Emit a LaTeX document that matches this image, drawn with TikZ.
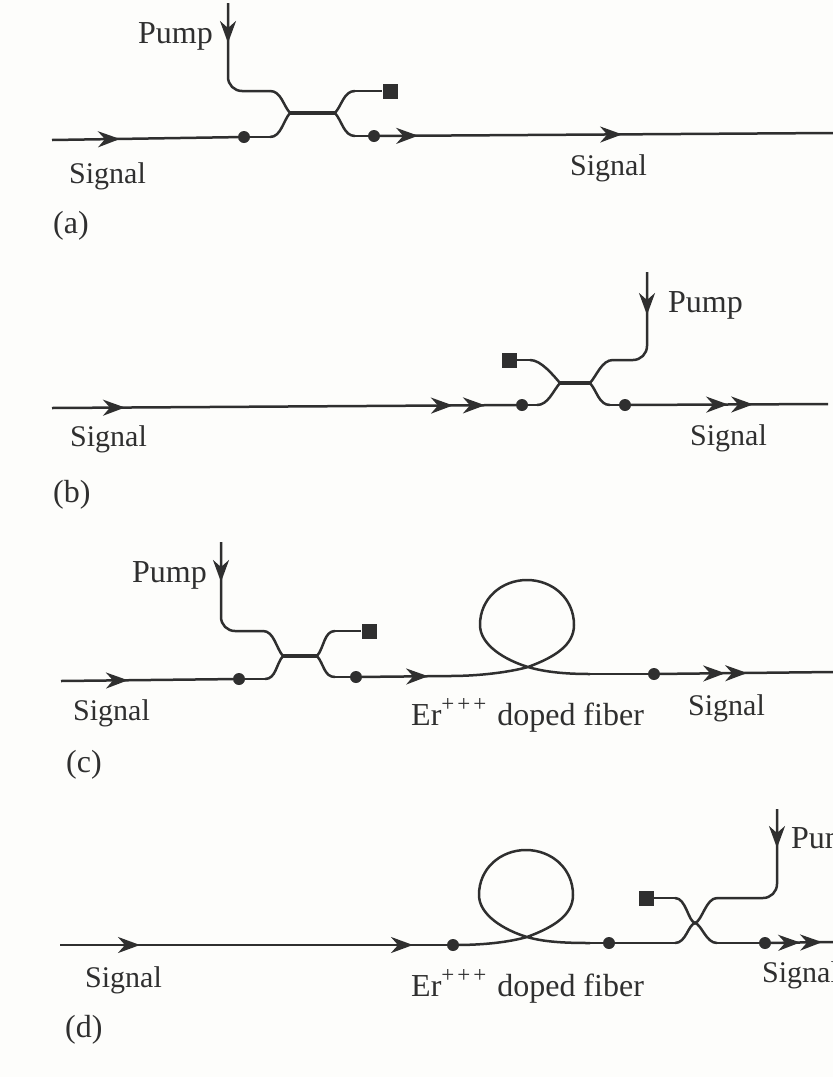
\documentclass[tikz,border=0pt]{standalone}
\usepackage{fontspec}
\setmainfont{Liberation Serif}
\usetikzlibrary{arrows.meta,decorations.markings}
\definecolor{ink}{HTML}{2F2F2F}
\definecolor{paper}{HTML}{FDFDFB}
\tikzset{
	fiber/.style={line width=2.5pt, color=ink},
	merged/.style={line width=3.4pt, color=ink},
	sharp/.tip={Stealth[length=22pt, width=16pt, inset=7pt]},
	tipat/.style={postaction={decorate}, decoration={markings, mark=at position #1 with {\arrow{sharp}}}},
	tiptwo/.style 2 args={postaction={decorate}, decoration={markings, mark=at position #1 with {\arrow{sharp}}, mark=at position #2 with {\arrow{sharp}}}},
	tipthree/.style n args={3}{postaction={decorate}, decoration={markings, mark=at position #1 with {\arrow{sharp}}, mark=at position #2 with {\arrow{sharp}}, mark=at position #3 with {\arrow{sharp}}}},
	splice/.style={circle, fill=ink, inner sep=0pt, minimum size=12pt},
	dump/.style={rectangle, fill=ink, inner sep=0pt, minimum size=15pt},
	lbl/.style={anchor=base west, inner sep=0pt, text=ink, font=\fontsize{30}{36}\selectfont},
	lblbig/.style={lbl, font=\fontsize{32}{38}\selectfont}
}
% flat fiber end into the coupler, and back out of it
\newcommand{\bendin}[3]{\draw[fiber] (#1) .. controls +(11,0) and +(-7,#3) .. (#2);}
\newcommand{\bendout}[3]{\draw[fiber] (#1) .. controls +(7,#3) and +(-11,0) .. (#2);}
\newcommand{\fiberloop}[3]{\draw[fiber] (#1) .. controls +(30,0) and +(-18,5) .. (#2) .. controls +(27,-10) and +(0,20) .. ++(46,-42) .. controls +(0,-27) and +(25,0) .. ++(-47,-45) .. controls +(-25,0) and +(0,-27) .. ++(-47,45) .. controls +(0,20) and +(-23,-7) .. (#2) .. controls +(17,5) and +(-25,0) .. (#3);}
\newcommand{\erlabel}{Er\raisebox{.42em}{\fontsize{23}{23}\selectfont +\kern3pt+\kern3pt+}\kern3pt{} doped fiber}

\begin{document}
\begin{tikzpicture}[x=1pt, y=-1pt]
	\useasboundingbox (0,0) rectangle (833,1077);
	\clip (0,0) rectangle (833,1077);
	\fill[paper] (0,0) rectangle (833,1077);

	% (a)
	\node[lblbig] (pumpA) at (138,43) {Pump};
	\node[lbl] (sigAl) at (69,183) {Signal};
	\node[lbl] (sigAr) at (570,175) {Signal};
	\node[lblbig] (capA) at (53,233) {(a)};
	\node[splice] (dotAl) at (244,137) {};
	\node[splice] (dotAr) at (374,136) {};
	\node[dump] (endA) at (390,91) {};
	\coordinate (pA0) at (228,3);
	\coordinate (pA2) at (270,91);
	\coordinate (cA0) at (290,113);
	\coordinate (cA1) at (335,113);
	\coordinate (uA) at (355,91);
	\coordinate (lA0) at (270,137);
	\coordinate (lA1) at (355,136);
	\coordinate (sA0) at (52,140);
	\coordinate (sA4) at (833,133);
	\draw[fiber, tipat=40pt, rounded corners=14pt] (pA0) |- (pA2);
	\bendin{pA2}{cA0}{-8}
	\draw[merged] (cA0) -- (cA1);
	\bendout{cA1}{uA}{-8}
	\draw[fiber] (uA) -- (endA);
	\bendin{lA0}{cA0}{8}
	\bendout{cA1}{lA1}{8}
	\draw[fiber, tipat=68pt] (sA0) -- (dotAl);
	\draw[fiber] (dotAl) -- (lA0);
	\draw[fiber] (lA1) -- (dotAr);
	\draw[fiber, tiptwo={38pt}{242pt}] (dotAr) -- (sA4);

	% (b)
	\node[lblbig] (pumpB) at (668,312) {Pump};
	\node[lbl] (sigBl) at (70,446) {Signal};
	\node[lbl] (sigBr) at (690,445) {Signal};
	\node[lblbig] (capB) at (53,502) {(b)};
	\node[splice] (dotBl) at (522,405) {};
	\node[splice] (dotBr) at (625,405) {};
	\node[dump] (endB) at (509,360) {};
	\coordinate (pB0) at (647,272);
	\coordinate (pB2) at (613,360);
	\coordinate (cB0) at (560,383);
	\coordinate (cB1) at (590,383);
	\coordinate (uB) at (530,360);
	\coordinate (lB0) at (537,405);
	\coordinate (lB1) at (610,405);
	\coordinate (sB0) at (52,408);
	\coordinate (sB6) at (828,404);
	\draw[fiber, tipat=43pt, rounded corners=14pt] (pB0) |- (pB2);
	\bendout{cB1}{pB2}{-8}
	\draw[merged] (cB0) -- (cB1);
	\bendin{uB}{cB0}{-8}
	\draw[fiber] (endB) -- (uB);
	\bendin{lB0}{cB0}{8}
	\bendout{cB1}{lB1}{8}
	\draw[fiber, tipthree={73pt}{401pt}{433pt}] (sB0) -- (dotBl);
	\draw[fiber] (dotBl) -- (lB0);
	\draw[fiber] (lB1) -- (dotBr);
	\draw[fiber, tiptwo={97pt}{122pt}] (dotBr) -- (sB6);

	% (c)
	\node[lblbig] (pumpC) at (132,582) {Pump};
	\node[lbl] (sigCl) at (73,720) {Signal};
	\node[lbl] (sigCr) at (688,715) {Signal};
	\node[lblbig] (erC) at (411,725) {\erlabel};
	\node[lblbig] (capC) at (66,772) {(c)};
	\node[splice] (dotCl) at (239,679) {};
	\node[splice] (dotCr) at (356,677) {};
	\node[splice] (dotCo) at (654,674) {};
	\node[dump] (endC) at (369,631) {};
	\coordinate (pC0) at (221,542);
	\coordinate (pC2) at (263,631);
	\coordinate (cC0) at (283,656);
	\coordinate (cC1) at (317,656);
	\coordinate (uC) at (335,631);
	\coordinate (lC0) at (265,679);
	\coordinate (lC1) at (335,677);
	\coordinate (sC0) at (61,681);
	\coordinate (inC) at (450,676);
	\coordinate (xC) at (528,667);
	\coordinate (outC) at (590,674);
	\coordinate (sC5) at (833,672);
	\draw[fiber, tipat=40pt, rounded corners=14pt] (pC0) |- (pC2);
	\bendin{pC2}{cC0}{-8}
	\draw[merged] (cC0) -- (cC1);
	\bendout{cC1}{uC}{-8}
	\draw[fiber] (uC) -- (endC);
	\bendin{lC0}{cC0}{8}
	\bendout{cC1}{lC1}{8}
	\draw[fiber, tipat=67pt] (sC0) -- (dotCl);
	\draw[fiber] (dotCl) -- (lC0);
	\draw[fiber] (lC1) -- (dotCr);
	\draw[fiber, tipat=66pt] (dotCr) -- (inC);
	\fiberloop{inC}{xC}{outC}
	\draw[fiber] (outC) -- (dotCo);
	\draw[fiber, tiptwo={65pt}{87pt}] (dotCo) -- (sC5);

	% (d)
	\node[lblbig] (pumpD) at (791,848) {Pump};
	\node[lbl] (sigDl) at (85,987) {Signal};
	\node[lbl] (sigDr) at (762,982) {Signal};
	\node[lblbig] (erD) at (411,996) {\erlabel};
	\node[lblbig] (capD) at (65,1037) {(d)};
	\node[splice] (dotDl) at (453,945) {};
	\node[splice] (dotDm) at (609,943) {};
	\node[splice] (dotDr) at (765,943) {};
	\node[dump] (endD) at (646,898) {};
	\coordinate (pD0) at (777,809);
	\coordinate (pD2) at (717,898);
	\coordinate (cD) at (695,923);
	\coordinate (uD) at (675,898);
	\coordinate (lD0) at (675,943);
	\coordinate (lD1) at (717,943);
	\coordinate (sD0) at (60,945);
	\coordinate (inD) at (455,945);
	\coordinate (xD) at (527,937);
	\coordinate (outD) at (590,943);
	\coordinate (sD5) at (833,942);
	\draw[fiber, tipat=39pt, rounded corners=14pt] (pD0) |- (pD2);
	\bendout{cD}{pD2}{-2}
	\draw[fiber] (endD) -- (uD);
	\bendin{uD}{cD}{-2}
	\bendin{lD0}{cD}{2}
	\bendout{cD}{lD1}{2}
	\draw[fiber, tiptwo={80pt}{353pt}] (sD0) -- (dotDl);
	\fiberloop{inD}{xD}{outD}
	\draw[fiber] (outD) -- (dotDm);
	\draw[fiber] (dotDm) -- (lD0);
	\draw[fiber] (lD1) -- (dotDr);
	\draw[fiber, tiptwo={29pt}{51pt}] (dotDr) -- (sD5);
\end{tikzpicture}
\end{document}
